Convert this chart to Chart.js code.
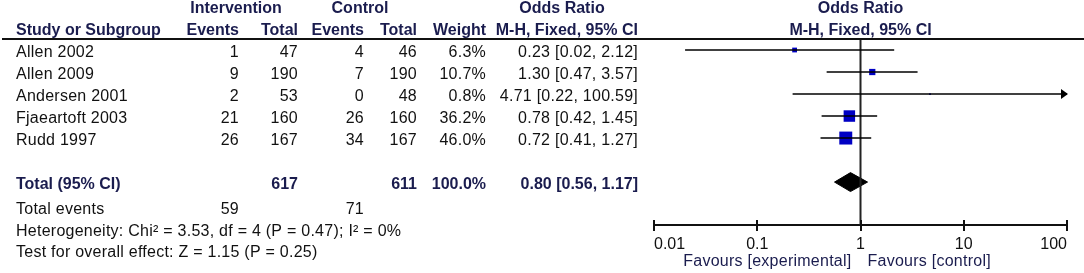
<!DOCTYPE html>
<html>
<head>
<meta charset="utf-8">
<script src="https://cdn.jsdelivr.net/npm/chart.js@4.4.0/dist/chart.umd.min.js"></script>
<style>
  html, body { margin: 0; padding: 0; background: #fff; }
  #wrap { width: 1084px; height: 273px; position: relative; }
</style>
</head>
<body>
<div id="wrap"><canvas id="forest"></canvas></div>
<script>
// study data
var studies = ['Allen 2002', 'Allen 2009', 'Andersen 2001', 'Fjaeartoft 2003', 'Rudd 1997'];
var intEvents = [1, 9, 2, 21, 26];
var intTotal = [47, 190, 53, 160, 167];
var ctlEvents = [4, 7, 0, 26, 34];
var ctlTotal = [46, 190, 48, 160, 167];
var weights = [6.3, 10.7, 0.8, 36.2, 46.0];
var orVal = [0.23, 1.30, 4.71, 0.78, 0.72];
var ciLow = [0.02, 0.47, 0.22, 0.42, 0.41];
var ciHigh = [2.12, 3.57, 100.59, 1.45, 1.27];
var pooled = [0.80, 0.56, 1.17];   // OR, low, high

var tickValues = [0.01, 0.1, 1, 10, 100];
var tickLabels = ['0.01', '0.1', '1', '10', '100'];

var hetText = 'Heterogeneity: Chi\u00b2 = 3.53, df = 4 (P = 0.47); I\u00b2 = 0%';
var testText = 'Test for overall effect: Z = 1.15 (P = 0.25)';
var favLeft = 'Favours [experimental]';
var favRight = 'Favours [control]';

var FONT = '"Liberation Sans", Arial, sans-serif';
var NAVY = '#1a1c4e';
var INK = '#111';

function sum(a) { return a.reduce(function (s, v) { return s + v; }, 0); }
function f2(v) { return v.toFixed(2); }

var datasets = [];

// confidence interval lines
studies.forEach(function (s, i) {
  datasets.push({
    type: 'line',
    data: [{x: ciLow[i], y: i}, {x: ciHigh[i], y: i}],
    borderColor: '#000',
    borderWidth: 1.5,
    pointRadius: 0,
    clip: 0
  });
});

// line of no effect
datasets.push({
  type: 'line',
  data: [{x: 1, y: -0.5}, {x: 1, y: 7.95}],
  borderColor: '#222',
  borderWidth: 2,
  pointRadius: 0,
  clip: false
});

// study squares, size from weight
datasets.push({
  type: 'scatter',
  data: orVal.map(function (v, i) { return {x: v, y: i}; }),
  pointStyle: 'rect',
  pointRadius: weights.map(function (w) { return Math.sqrt(w) * 1.35; }),
  backgroundColor: '#0000c4',
  borderColor: '#0000c4',
  borderWidth: 0
});

// pooled diamond
var dRow = studies.length + 1;
datasets.push({
  type: 'line',
  data: [
    {x: pooled[1], y: dRow},
    {x: pooled[0], y: dRow - 0.43},
    {x: pooled[2], y: dRow},
    {x: pooled[0], y: dRow + 0.43},
    {x: pooled[1], y: dRow}
  ],
  borderColor: '#000',
  backgroundColor: '#000',
  borderWidth: 1,
  pointRadius: 0,
  fill: 'shape'
});

function txt(c, s, x, y, align, bold, color) {
  c.font = (bold ? 'bold ' : '') + '16px ' + FONT;
  c.letterSpacing = bold ? '0px' : '0.25px';
  c.textAlign = align;
  c.textBaseline = 'middle';
  c.fillStyle = color || INK;
  c.fillText(s, x, y);
}

var tablePlugin = {
  id: 'forestTable',
  afterDraw: function (chart) {
    var c = chart.ctx, xs = chart.scales.x, ys = chart.scales.y, area = chart.chartArea;
    var rowY = function (r) { return ys.getPixelForValue(r) + 3; };
    var one = xs.getPixelForValue(1);
    c.save();

    // header rule
    c.strokeStyle = '#111';
    c.lineWidth = 2;
    c.beginPath();
    c.moveTo(2, area.top);
    c.lineTo(chart.width, area.top);
    c.stroke();

    // upper half of axis ticks
    c.beginPath();
    xs.ticks.forEach(function (t) {
      var px = Math.round(xs.getPixelForValue(t.value));
      c.moveTo(px, area.bottom - 5);
      c.lineTo(px, area.bottom);
    });
    c.stroke();

    // arrow for interval beyond the axis
    ciHigh.forEach(function (h, i) {
      if (h > xs.max) {
        var tip = xs.getPixelForValue(xs.max) + 1, y = ys.getPixelForValue(i);
        c.fillStyle = '#000';
        c.beginPath();
        c.moveTo(tip, y);
        c.lineTo(tip - 7, y - 5);
        c.lineTo(tip - 7, y + 5);
        c.closePath();
        c.fill();
      }
    });

    // headers
    txt(c, 'Intervention', 236, rowY(-2), 'center', true, NAVY);
    txt(c, 'Control', 360, rowY(-2), 'center', true, NAVY);
    txt(c, 'Odds Ratio', 562, rowY(-2), 'center', true, NAVY);
    txt(c, 'Odds Ratio', one, rowY(-2), 'center', true, NAVY);
    txt(c, 'Study or Subgroup', 16, rowY(-1), 'left', true, NAVY);
    txt(c, 'Events', 239, rowY(-1), 'right', true, NAVY);
    txt(c, 'Total', 298, rowY(-1), 'right', true, NAVY);
    txt(c, 'Events', 364, rowY(-1), 'right', true, NAVY);
    txt(c, 'Total', 417, rowY(-1), 'right', true, NAVY);
    txt(c, 'Weight', 486, rowY(-1), 'right', true, NAVY);
    txt(c, 'M-H, Fixed, 95% CI', 638, rowY(-1), 'right', true, NAVY);
    txt(c, 'M-H, Fixed, 95% CI', one, rowY(-1), 'center', true, NAVY);

    // study rows
    studies.forEach(function (s, i) {
      var y = rowY(i);
      txt(c, s, 16, y, 'left');
      txt(c, String(intEvents[i]), 239, y, 'right');
      txt(c, String(intTotal[i]), 298, y, 'right');
      txt(c, String(ctlEvents[i]), 364, y, 'right');
      txt(c, String(ctlTotal[i]), 417, y, 'right');
      txt(c, weights[i].toFixed(1) + '%', 486, y, 'right');
      txt(c, f2(orVal[i]) + ' [' + f2(ciLow[i]) + ', ' + f2(ciHigh[i]) + ']', 638, y, 'right');
    });

    // totals
    var ty = rowY(dRow);
    txt(c, 'Total (95% CI)', 16, ty, 'left', true, NAVY);
    txt(c, String(sum(intTotal)), 298, ty, 'right', true, NAVY);
    txt(c, String(sum(ctlTotal)), 417, ty, 'right', true, NAVY);
    txt(c, sum(weights).toFixed(1) + '%', 486, ty, 'right', true, NAVY);
    txt(c, f2(pooled[0]) + ' [' + f2(pooled[1]) + ', ' + f2(pooled[2]) + ']', 638, ty, 'right', true, NAVY);

    var ey = rowY(dRow + 1.1);
    txt(c, 'Total events', 16, ey, 'left');
    txt(c, String(sum(intEvents)), 239, ey, 'right');
    txt(c, String(sum(ctlEvents)), 364, ey, 'right');
    txt(c, hetText, 16, rowY(dRow + 2.1), 'left');
    txt(c, testText, 16, rowY(dRow + 3.05), 'left');

    // favours labels
    txt(c, favLeft, one - 9, area.bottom + 37, 'right', false, NAVY);
    txt(c, favRight, one + 7, area.bottom + 37, 'left', false, NAVY);

    c.restore();
  }
};

new Chart(document.getElementById('forest'), {
  type: 'scatter',
  data: { datasets: datasets },
  plugins: [tablePlugin],
  options: {
    responsive: true,
    maintainAspectRatio: false,
    animation: false,
    events: [],
    layout: { padding: { left: 654, right: 17, top: 39, bottom: 14.8 } },
    plugins: { legend: { display: false }, tooltip: { enabled: false } },
    scales: {
      x: {
        type: 'logarithmic',
        min: tickValues[0],
        max: tickValues[tickValues.length - 1],
        afterBuildTicks: function (scale) {
          scale.ticks = tickValues.map(function (v) { return {value: v}; });
        },
        ticks: {
          autoSkip: false,
          maxRotation: 0,
          align: 'inner',
          padding: 4,
          color: INK,
          font: { family: FONT, size: 16 },
          callback: function (v, i) { return tickLabels[i]; }
        },
        grid: { drawOnChartArea: false, drawTicks: true, tickLength: 6, color: '#111', lineWidth: 2 },
        border: { display: true, color: '#111', width: 2 }
      },
      y: {
        type: 'linear',
        reverse: true,
        min: -0.5,
        max: 7.95,
        display: false
      }
    }
  }
});
</script>
</body>
</html>
